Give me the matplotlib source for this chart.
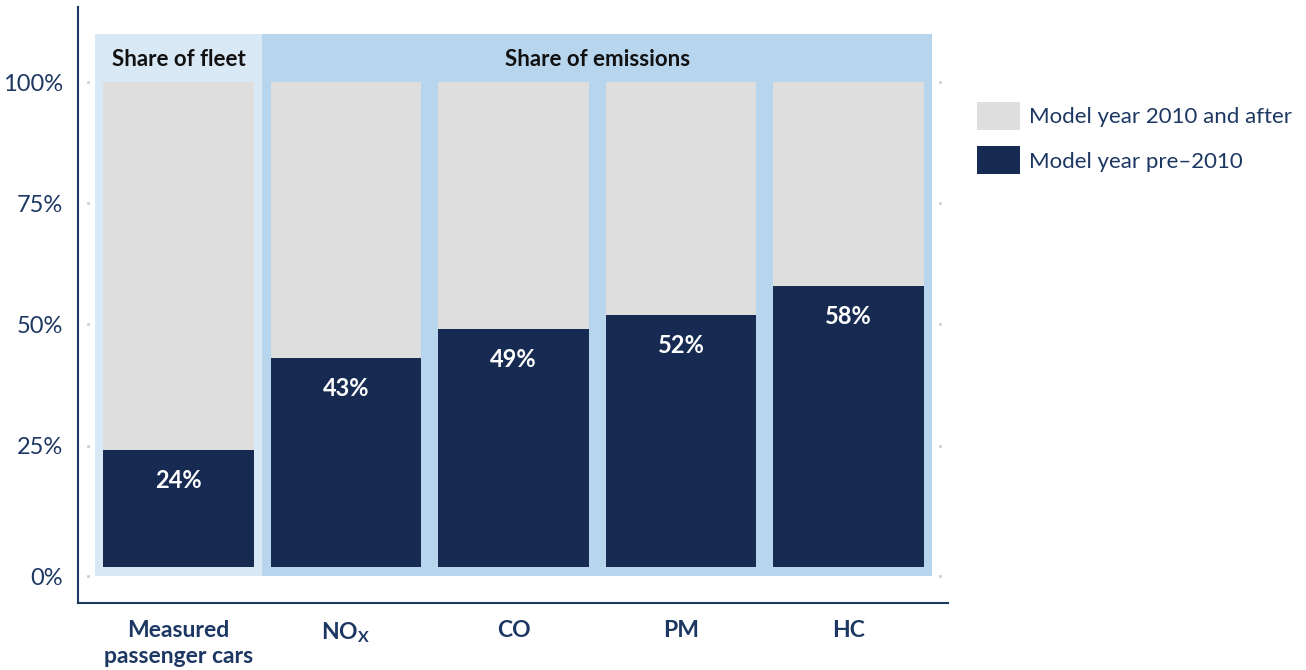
import matplotlib
matplotlib.use("Agg")
import matplotlib.pyplot as plt
from matplotlib.patches import Rectangle

plt.rcParams['font.family'] = ['Lato', 'DejaVu Sans']

categories = ["Measured\npassenger cars", "NO$_\\mathregular{X}$", "CO", "PM", "HC"]
pre_2010 = [24, 43, 49, 52, 58]
after_2010 = [100 - v for v in pre_2010]
tick_vals = [-2, 25, 50, 75, 100]
tick_labels = ["0%", "25%", "50%", "75%", "100%"]
legend_labels = ["Model year 2010 and after", "Model year pre\u20132010"]

navy = "#172b52"
grey = "#dededf"
text_navy = "#1d3763"
panel_light = "#d9e8f5"
panel_dark = "#b8d5ee"

fig = plt.figure(figsize=(13.06, 6.70), dpi=100)
ax = fig.add_axes([0.0597, 0.1, 0.6662, 0.8896])

x = list(range(len(categories)))
ax.add_patch(Rectangle((-0.5, -2), 1.0, 112, color=panel_light, zorder=0, lw=0))
ax.add_patch(Rectangle((0.5, -2), 4.0, 112, color=panel_dark, zorder=0, lw=0))

b1 = ax.bar(x, pre_2010, width=0.9, color=navy, zorder=2, label=legend_labels[1])
b2 = ax.bar(x, after_2010, width=0.9, bottom=pre_2010, color=grey, zorder=2,
            label=legend_labels[0])

for xi, v in zip(x, pre_2010):
    ax.text(xi, v - 6.3, f"{v}%", ha="center", va="center", color="white",
            fontsize=17, fontweight="bold", zorder=3)

ax.text(0, 104.7, "Share of fleet", ha="center", va="center", fontsize=16,
        fontweight="bold", color="#111111", zorder=3)
ax.text(2.5, 104.7, "Share of emissions", ha="center", va="center", fontsize=16,
        fontweight="bold", color="#111111", zorder=3)

# tiny dots at tick levels
for t in tick_vals:
    ax.plot([-0.54, 4.546], [t, t], ls="none", marker="s", ms=1.1,
            color="#d0d0d0", zorder=1)

ax.set_xlim(-0.6, 4.594)
ax.set_ylim(-7.5, 115.5)
ax.set_yticks(tick_vals)
ax.set_yticklabels(tick_labels, fontsize=17, color=text_navy)
ax.set_xticks(x)
ax.set_xticklabels(categories, fontsize=16.5, fontweight="bold", color=text_navy,
                   linespacing=1.3)
ax.tick_params(length=0, pad=12)
ax.tick_params(axis="y", pad=11)

for s in ["top", "right"]:
    ax.spines[s].set_visible(False)
for s in ["left", "bottom"]:
    ax.spines[s].set_color(text_navy)
    ax.spines[s].set_linewidth(1.5)

handles = [b2, b1]
fig.legend(handles, legend_labels, loc="upper left", bbox_to_anchor=(0.748, 0.848),
           frameon=False, fontsize=16, labelcolor=text_navy, handlelength=1.95,
           handleheight=1.55, handletextpad=0.4, labelspacing=0.75,
           borderpad=0, borderaxespad=0)

fig.savefig("out.png", dpi=100)
